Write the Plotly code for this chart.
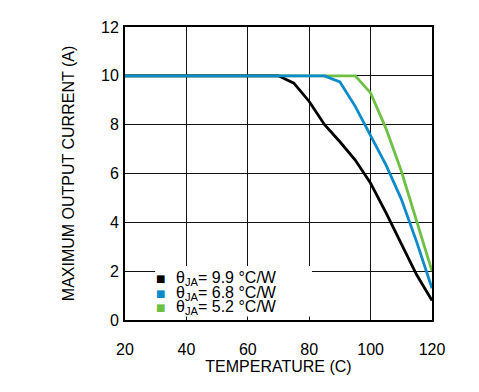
import plotly.graph_objects as go

temperature = [20, 25, 30, 35, 40, 45, 50, 55, 60, 65, 70, 75, 80, 85, 90, 95, 100, 105, 110, 115, 120]
current_9_9 = [10, 10, 10, 10, 10, 10, 10, 10, 10, 10, 10, 9.7, 8.95, 8.0, 7.3, 6.55, 5.6, 4.4, 3.1, 1.85, 0.8]
current_6_8 = [10, 10, 10, 10, 10, 10, 10, 10, 10, 10, 10, 10, 10, 10, 9.75, 8.75, 7.55, 6.35, 4.95, 3.2, 1.3]
current_5_2 = [10, 10, 10, 10, 10, 10, 10, 10, 10, 10, 10, 10, 10, 10, 10, 10, 9.3, 7.85, 6.1, 4.1, 2.0]

series_labels = ["θ<sub>JA</sub>= 9.9 °C/W", "θ<sub>JA</sub>= 6.8 °C/W", "θ<sub>JA</sub>= 5.2 °C/W"]
series_colors = ["#000000", "#0c8bcb", "#6ec043"]

x_ticks = [20, 40, 60, 80, 100, 120]
y_ticks = [0, 2, 4, 6, 8, 10, 12]

FONT = "Liberation Sans, Arial, sans-serif"

fig = go.Figure()
for vals, col, lab in zip([current_5_2, current_9_9, current_6_8],
                          [series_colors[2], series_colors[0], series_colors[1]],
                          [series_labels[2], series_labels[0], series_labels[1]]):
    fig.add_trace(go.Scatter(x=temperature, y=vals, mode="lines", name=lab,
                             line=dict(color=col, width=2.8), showlegend=False))

# legend box (white, covering grid lines)
fig.add_shape(type="rect", xref="paper", yref="paper", x0=0.098, x1=0.609, y0=0.012, y1=0.184,
              fillcolor="white", line=dict(width=0), layer="above")

legend_y = [0.140, 0.092, 0.044]
for lab, col, yy in zip(series_labels, series_colors, legend_y):
    fig.add_annotation(xref="paper", yref="paper", x=0.117, y=yy, text="■", showarrow=False,
                       font=dict(family="DejaVu Sans", size=10, color=col),
                       xanchor="center", yanchor="middle")
    fig.add_annotation(xref="paper", yref="paper", x=0.160, y=yy, text=lab, showarrow=False,
                       font=dict(family=FONT, size=16, color="black"),
                       xanchor="left", yanchor="middle")

axis_common = dict(showgrid=True, gridwidth=1, gridcolor="#111111", showline=True, linecolor="black",
                   linewidth=2, mirror=True, zeroline=False, ticks="outside",
                   tickcolor="rgba(0,0,0,0)", automargin=False,
                   tickfont=dict(family=FONT, size=16, color="black"))

fig.update_xaxes(range=[20, 120], tickvals=x_ticks, ticklen=14,
                 title=dict(text="TEMPERATURE (C)", font=dict(family=FONT, size=16, color="black"), standoff=0),
                 **axis_common)
fig.update_yaxes(range=[0, 12], tickvals=y_ticks, ticklen=1,
                 title=dict(text="MAXIMUM OUTPUT CURRENT (A)", font=dict(family=FONT, size=16, color="black"), standoff=22),
                 **axis_common)

fig.update_layout(width=479, height=392, margin=dict(l=125, r=47, t=27, b=72),
                  paper_bgcolor="white", plot_bgcolor="white",
                  font=dict(family=FONT, size=16, color="black"))

fig.write_html("out.html", config={"displayModeBar": False},
               post_script="document.body.style.margin='0px';")
